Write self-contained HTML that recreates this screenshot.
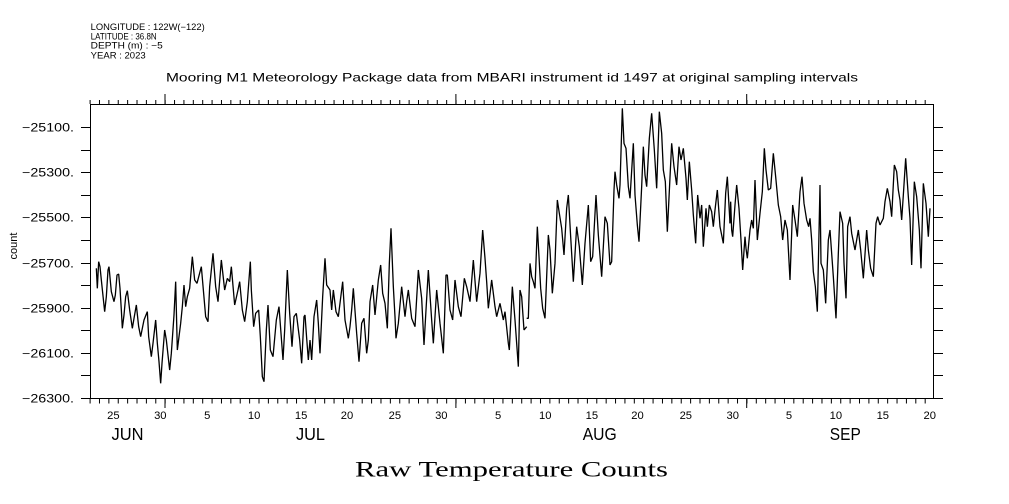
<!DOCTYPE html>
<html>
<head>
<meta charset="utf-8">
<style>
html,body{margin:0;padding:0;background:#fff;}
svg{display:block;}
text{font-family:"Liberation Sans",sans-serif;fill:#000;}
</style>
</head>
<body>
<svg width="1009" height="504" viewBox="0 0 1009 504" xmlns="http://www.w3.org/2000/svg">
<rect x="0" y="0" width="1009" height="504" fill="#fff"/>

<!-- header -->
<g font-size="8.8">
<text x="90.7" y="30" textLength="114" lengthAdjust="spacingAndGlyphs">LONGITUDE : 122W(−122)</text>
<text x="90.7" y="39.3" textLength="66" lengthAdjust="spacingAndGlyphs">LATITUDE : 36.8N</text>
<text x="90.7" y="48.7" textLength="72" lengthAdjust="spacingAndGlyphs">DEPTH (m) : −5</text>
<text x="90.7" y="58.3" textLength="55" lengthAdjust="spacingAndGlyphs">YEAR : 2023</text>
</g>

<!-- title -->
<text x="166" y="81.5" font-size="11.8" textLength="692" lengthAdjust="spacingAndGlyphs">Mooring M1 Meteorology Package data from MBARI instrument id 1497 at original sampling intervals</text>

<!-- plot frame -->
<g stroke="#000" stroke-width="1" fill="none">
<rect x="90.5" y="104.5" width="843" height="294"/>
<line x1="89.6" y1="401" x2="934" y2="401" stroke-width="5" stroke-dasharray="1 8.383"/>
<line x1="89.6" y1="102" x2="934" y2="102" stroke-width="4" stroke-dasharray="1 8.383"/>
<path d="M165 398 V408 M455.9 398 V408 M746.7 398 V408 M165 104 V94 M455.9 104 V94 M746.7 104 V94"/>
<path d="M81 398.5 H90 M81 375.5 H90 M81 353.5 H90 M81 330.5 H90 M81 308.5 H90 M81 285.5 H90 M81 263.5 H90 M81 240.5 H90 M81 217.5 H90 M81 195.5 H90 M81 172.5 H90 M81 150.5 H90 M81 127.5 H90"/>
<path d="M934 398.5 H943 M934 375.5 H943 M934 353.5 H943 M934 330.5 H943 M934 308.5 H943 M934 285.5 H943 M934 263.5 H943 M934 240.5 H943 M934 217.5 H943 M934 195.5 H943 M934 172.5 H943 M934 150.5 H943 M934 127.5 H943"/>
</g>

<!-- y labels -->
<g font-size="11.5" text-anchor="end">
<text x="74" y="131.5" textLength="52" lengthAdjust="spacingAndGlyphs">−25100.</text>
<text x="74" y="176.5" textLength="52" lengthAdjust="spacingAndGlyphs">−25300.</text>
<text x="74" y="221.5" textLength="52" lengthAdjust="spacingAndGlyphs">−25500.</text>
<text x="74" y="267.5" textLength="52" lengthAdjust="spacingAndGlyphs">−25700.</text>
<text x="74" y="312.5" textLength="52" lengthAdjust="spacingAndGlyphs">−25900.</text>
<text x="74" y="357.5" textLength="52" lengthAdjust="spacingAndGlyphs">−26100.</text>
<text x="74" y="402.5" textLength="52" lengthAdjust="spacingAndGlyphs">−26300.</text>
</g>

<text transform="translate(17 246) rotate(-90)" font-size="11" text-anchor="middle">count</text>

<!-- x day labels -->
<g font-size="11.2" text-anchor="middle">
<text x="113.4" y="419">25</text>
<text x="160.3" y="419">30</text>
<text x="207.2" y="419">5</text>
<text x="254.1" y="419">10</text>
<text x="301.1" y="419">15</text>
<text x="347" y="419">20</text>
<text x="394.9" y="419">25</text>
<text x="441.3" y="419">30</text>
<text x="498.1" y="419">5</text>
<text x="545.2" y="419">10</text>
<text x="591.9" y="419">15</text>
<text x="637.5" y="419">20</text>
<text x="685.8" y="419">25</text>
<text x="732.7" y="419">30</text>
<text x="789" y="419">5</text>
<text x="835.9" y="419">10</text>
<text x="882.8" y="419">15</text>
<text x="929.7" y="419">20</text>
</g>

<!-- month labels -->
<g font-size="17.5" text-anchor="middle">
<text x="127.5" y="440" textLength="32" lengthAdjust="spacingAndGlyphs">JUN</text>
<text x="310.5" y="440" textLength="29" lengthAdjust="spacingAndGlyphs">JUL</text>
<text x="599.7" y="440" textLength="34" lengthAdjust="spacingAndGlyphs">AUG</text>
<text x="845.3" y="440" textLength="31" lengthAdjust="spacingAndGlyphs">SEP</text>
</g>

<!-- x title -->
<text x="355" y="476.7" font-size="22.5" textLength="313" lengthAdjust="spacingAndGlyphs" style="font-family:'Liberation Serif',serif">Raw Temperature Counts</text>

<!-- data series -->
<g fill="none" stroke="#000" stroke-width="1.3" stroke-linejoin="bevel">
<polyline vector-effect="non-scaling-stroke" transform="translate(88 230) scale(0.333333)" points="25,115 28,175 32,95 36,110 40,150 50,245 55,200 60,120 63,110 70,185 78,215 82,195 87,135 92,132 96,175 100,240 103,295 108,255 113,200 118,182 125,240 133,295 138,265 145,225 152,290 158,320 168,270 178,245 182,320 190,380 195,340 203,270 208,340 213,395 218,460 222,400 230,300 235,330 245,420 250,370 258,255 263,155 268,360 278,280 283,230 288,165 293,230 298,200 305,175 313,80 320,150 327,160 340,110 353,260 360,275 365,170 375,70 383,170 390,215 400,90 410,180 418,145 425,155 430,110 440,225 450,180 455,155 463,240 470,275 478,215 487,95 490,180 497,290 503,250 512,240 517,320 523,440 528,455 535,300 540,225 547,360 555,380 565,270 573,230 585,390 590,300 598,120 605,250 612,350 618,260 625,250 635,330"/>
<polyline vector-effect="non-scaling-stroke" transform="translate(300 220) scale(0.333333)" points="-1,360 5,430 12,290 15,285 20,355 25,420 30,360 35,420 42,290 50,240 55,310 60,400 68,230 75,115 80,195 90,210 95,270 100,210 108,275 115,290 128,185 135,300 145,355 150,320 155,270 160,205 170,340 177,425 185,310 192,295 200,400 205,360 210,245 218,195 225,285 235,180 242,135 248,220 255,250 262,325 268,130 273,25 280,200 285,290 288,355 295,310 305,200 315,290 320,245 325,210 335,295 345,320 355,150 365,235 372,375 378,270 385,150 395,300 400,370 410,210 420,310 430,400 438,165 442,165 450,270 458,300 465,180 475,260 483,290 493,175 500,200 510,245 520,120 530,245 540,160 548,30 555,115 560,185 565,265 575,180 585,260 590,290 600,250 610,300 615,275 625,370 628,390 637,200 645,300 655,440 660,210 665,230 672,330 680,320"/>
<polyline vector-effect="non-scaling-stroke" transform="translate(520 100) scale(0.333333)" points="20,655 25,655 30,490 35,530 40,545 45,565 52,380 57,470 62,565 68,625 75,655 85,405 90,450 97,580 105,490 112,300 118,340 125,385 132,465 140,325 145,285 152,410 160,545 170,380 178,440 187,555 195,430 205,315 212,485 218,470 228,285 235,405 245,530 255,350 262,370 270,495 275,485 282,270 285,215 290,255 297,295 300,255 307,25 312,130 318,145 325,260 330,295 340,130 345,285 352,375 357,425 365,260 370,140 375,225 380,260 388,115 395,40 403,150 410,265 418,35 425,100 430,210 436,245 442,395 455,130 462,200 470,255 477,140 483,180 490,145 498,235 502,300 508,185 515,270 520,345 527,430 533,285 540,355 545,315 550,440 558,325 562,380 568,315 575,335 580,380 585,330 592,270 600,380 610,430 617,280 622,230 630,370"/>
<polyline vector-effect="non-scaling-stroke" transform="translate(730 130) scale(0.333333)" points="0,280 2,215 5,300 8,320 15,225 20,165 27,235 33,330 38,420 45,320 48,355 52,385 60,300 65,270 70,295 75,150 82,330 90,250 97,185 103,55 108,120 115,180 122,175 130,70 137,140 145,225 152,260 158,330 165,270 172,300 180,450 188,225 195,270 202,320 210,185 216,140 222,220 230,270 236,290 240,265 245,330 250,425 256,470 262,545 270,165 273,400 280,420 287,520 295,330 300,300 310,440 318,565 325,370 330,245 338,280 342,400 348,505 353,290 360,260 365,310 375,360 385,300 392,360 400,445 410,300 415,360 422,415 430,440 438,280 443,260 450,285 460,265 465,215 472,175 480,215 485,260 493,105 500,125 505,180 510,210 515,270 520,195 527,85 535,200 540,265 545,405 553,155 560,200 568,300 573,415 580,160 588,220 595,320 600,235"/>
</g>
</svg>
</body>
</html>
